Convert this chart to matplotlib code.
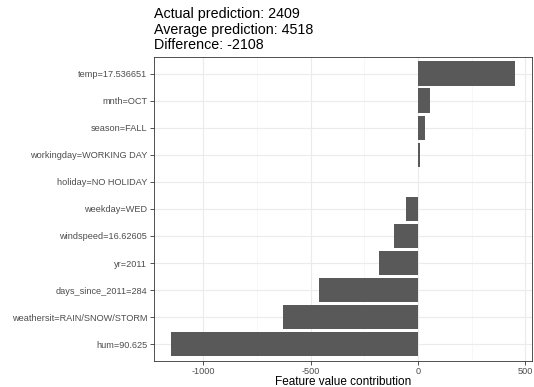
import matplotlib
matplotlib.use("Agg")
import matplotlib.pyplot as plt
from matplotlib import font_manager as fm
from matplotlib.ticker import MultipleLocator

# avoid the condensed variant being picked for "Liberation Sans"
fm.fontManager.ttflist = [f for f in fm.fontManager.ttflist if "Narrow" not in f.fname]
plt.rcParams['font.family'] = ['Liberation Sans', 'DejaVu Sans']

features = ["temp=17.536651", "mnth=OCT", "season=FALL", "workingday=WORKING DAY",
            "holiday=NO HOLIDAY", "weekday=WED", "windspeed=16.62605", "yr=2011",
            "days_since_2011=284", "weathersit=RAIN/SNOW/STORM", "hum=90.625"]
contrib = [450, 57, 35, 9, 2, -54, -112, -180, -460, -629, -1150]
title_lines = ["Actual prediction: 2409", "Average prediction: 4518", "Difference: -2108"]
xticks = [-1000, -500, 0, 500]

W, H = 534, 387
fig = plt.figure(figsize=(W / 100, H / 100), dpi=100)
left, right, top, bottom = 154.0, 531.7, 57.3, 360.5
ax = fig.add_axes([left / W, 1 - bottom / H, (right - left) / W, (bottom - top) / H])

n = len(features)
ypos = [n - i for i in range(n)]
ax.barh(ypos, contrib, height=0.9, color="#595959", zorder=3)

lo, hi = min(min(contrib), 0), max(max(contrib), 0)
span = hi - lo
ax.set_xlim(lo - 0.05 * span, hi + 0.05 * span)
ax.set_ylim(0.4, n + 0.6)
ax.set_yticks(ypos)
ax.set_yticklabels(features)
ax.set_xticks(xticks)
ax.set_xticklabels([str(v) for v in xticks])
ax.xaxis.set_minor_locator(MultipleLocator(250))

ax.grid(True, which="major", color="#EBEBEB", linewidth=0.8, zorder=0)
ax.grid(True, which="minor", axis="x", color="#F4F4F4", linewidth=0.5, zorder=0)
ax.set_axisbelow(True)
ax.tick_params(axis="both", which="major", length=2.7, width=0.6, color="#333333",
               labelsize=6.6, labelcolor="#4D4D4D", pad=2.2)
ax.tick_params(axis="x", which="minor", length=0)
for s in ax.spines.values():
    s.set_color("#333333")
    s.set_linewidth(0.6)

fig.text((left + right) / 2 / W, 1 - 381.7 / H, "Feature value contribution",
         fontsize=8.45, color="black", ha="center", va="center")

for line, yc in zip(title_lines, [13.6, 29.6, 45.3]):
    fig.text(left / W, 1 - yc / H, line, fontsize=10.3, ha="left", va="center",
             color="black")

fig.savefig("out.png", dpi=100)
